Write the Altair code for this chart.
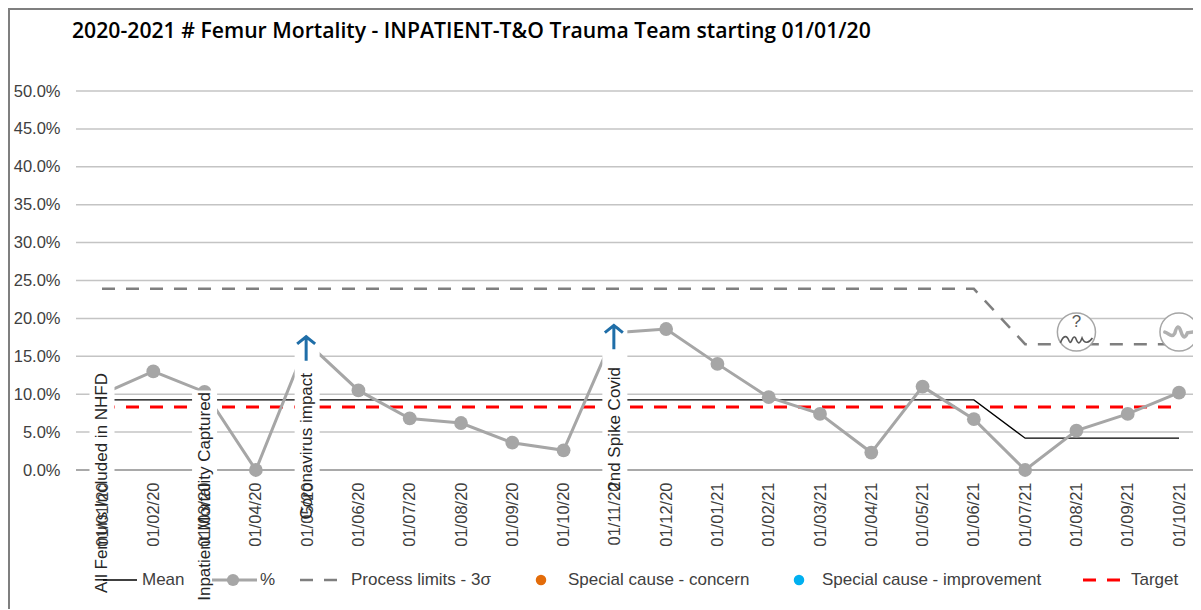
import altair as alt
import pandas as pd

dates = ["01/01/20","01/02/20","01/03/20","01/04/20","01/05/20","01/06/20","01/07/20","01/08/20","01/09/20","01/10/20","01/11/20","01/12/20",
         "01/01/21","01/02/21","01/03/21","01/04/21","01/05/21","01/06/21","01/07/21","01/08/21","01/09/21","01/10/21"]
pct = [10.0,13.0,10.3,0.0,16.8,10.5,6.8,6.2,3.6,2.6,18.1,18.6,14.0,9.6,7.4,2.3,11.0,6.7,0.0,5.2,7.4,10.2]
mean = [9.25]*18 + [4.2]*4
limit = [23.9]*18 + [16.6]*4
target = [8.3]*22
note_dates = ["01/01/20","01/03/20","01/05/20","01/11/20"]
note_text = ["All Femurs Included in NHFD","Inpatient Mortality Captured","Coronavirus impact","2nd Spike Covid"]
note_top = [12.8,10.3,12.8,13.6]
box_top = [13.0,10.5,17.7,18.7]
arrow_dates = ["01/05/20","01/11/20"]
arrow_mid = [16.0,17.5]
icon_dates = ["01/08/21","01/10/21"]
icon_y = [18.2,18.2]
yticks = [0,5,10,15,20,25,30,35,40,45,50]

df = pd.DataFrame(dict(d=dates,pct=pct,mean=mean,limit=limit,target=target))
notes = pd.DataFrame(dict(d=note_dates,t=note_text,top=note_top,box=box_top,zero=[-0.2]*4))
arrows = pd.DataFrame(dict(d=arrow_dates,y=arrow_mid))
icons = pd.DataFrame(dict(d=icon_dates,y=icon_y))
grid_df = pd.DataFrame(dict(g=yticks[1:]))
zero_df = pd.DataFrame(dict(g=yticks[:1]))

FONT = "Liberation Sans"
TXT = "#404040"
GRID = "#c4c4c4"
W = 1117
sc_x = alt.Scale(type="point", padding=0, domain=dates, range=[26,1103])
sc_y = alt.Scale(domain=[0,50], nice=False)
ax_x = alt.Axis(labelAngle=270, labelAlign="right", labelBaseline="middle", labelPadding=12, ticks=False, domain=False,
                labelFont=FONT, labelFontSize=16.5, labelColor=TXT, labelOverlap=False, grid=False)
ax_y = alt.Axis(values=yticks, labelExpr="format(datum.value,'.1f')+'%'", labelPadding=16, ticks=False, domain=False, grid=False,
                labelFont=FONT, labelFontSize=16.5, labelColor=TXT, labelOverlap=False)
X = alt.X("d:N", sort=dates, title=None, scale=sc_x, axis=ax_x)
def Y(f):
    return alt.Y(f, title=None, scale=sc_y, axis=ax_y)

grid = [
    alt.Chart(grid_df).mark_rule(color=GRID, strokeWidth=1.5).encode(y=Y("g:Q"), x=alt.value(0), x2=alt.value(W)),
    alt.Chart(zero_df).mark_rule(color="#8c8c8c", strokeWidth=1.5).encode(y=Y("g:Q"), x=alt.value(0), x2=alt.value(W)),
]
base = [
    alt.Chart(df).mark_line(color="#7f7f7f", strokeWidth=2.5, strokeDash=[13,11]).encode(x=X, y=Y("limit:Q")),
    alt.Chart(df).mark_line(color="#000000", strokeWidth=1.3).encode(x=X, y=Y("mean:Q")),
    alt.Chart(df).mark_line(color="#ff0000", strokeWidth=3, strokeDash=[13,11]).encode(x=X, y=Y("target:Q")),
    alt.Chart(df).mark_line(color="#a6a6a6", strokeWidth=3).encode(x=X, y=Y("pct:Q")),
    alt.Chart(df).mark_point(filled=True, color="#a6a6a6", size=190, opacity=1).encode(x=X, y=Y("pct:Q")),
]
boxes = alt.Chart(notes).mark_rule(color="white", strokeWidth=25).encode(x=X, y=Y("box:Q"), y2="zero:Q")
texts = alt.Chart(notes).mark_text(angle=270, align="right", baseline="middle", font=FONT, fontSize=17, color="#262626").encode(
    x=X, y=Y("top:Q"), text="t:N")
ARROW = "M-0.75,-0.4 L0,-1 L0.75,-0.4 M0,-1 L0,1"
arrow = alt.Chart(arrows).mark_point(shape=ARROW, color="#1f6ea8", size=576, strokeWidth=3, opacity=1, filled=False, xOffset=-1).encode(
    x=X, y=Y("y:Q"))
circ = alt.Chart(icons).mark_point(shape="circle", filled=True, fill="white", stroke="#a6a6a6", strokeWidth=1.5, size=1452, opacity=1).encode(
    x=X, y=Y("y:Q"))
WAVE = "M-1,0.3 C-0.8,-0.2 -0.6,-0.2 -0.45,0.2 C-0.3,0.5 -0.25,-0.3 -0.05,0 C0.1,0.4 0.2,0.4 0.35,0 C0.5,0.4 0.8,0.3 1,0"
PULSE = "M-1,0 C-0.7,0.1 -0.5,0.45 -0.3,0.1 C-0.15,-0.5 0,-0.5 0.15,0 C0.3,0.5 0.45,0.4 0.6,0.05 L1,0"
w1 = alt.Chart(icons.iloc[[0]]).mark_point(shape=WAVE, stroke="#595959", strokeWidth=1.6, size=1024, opacity=1, yOffset=6).encode(
    x=X, y=Y("y:Q"))
w2 = alt.Chart(icons.iloc[[1]]).mark_point(shape=PULSE, stroke="#b0b0b0", strokeWidth=3.5, size=800, opacity=1, strokeCap="round").encode(
    x=X, y=Y("y:Q"))
q = alt.Chart(icons.iloc[[0]]).mark_text(text="?", font=FONT, fontSize=17, color="#595959", yOffset=-10).encode(
    x=X, y=Y("y:Q"))

# legend (pixels within the plot: page x - 76, page y - 91)
LX = lambda px: px - 76
LY = 489
legend_row = pd.DataFrame({"a":[0]})
def lrule(x1,x2,**kw):
    return alt.Chart(legend_row).mark_rule(**kw).encode(x=alt.value(LX(x1)),x2=alt.value(LX(x2)),y=alt.value(LY))
def ltext(x,t):
    return alt.Chart(legend_row).mark_text(text=t,align="left",baseline="middle",font=FONT,fontSize=17,color=TXT).encode(x=alt.value(LX(x)),y=alt.value(LY))
def ldot(x,c,s=110):
    return alt.Chart(legend_row).mark_point(filled=True,color=c,size=s,opacity=1).encode(x=alt.value(LX(x)),y=alt.value(LY))
legend = [
    lrule(103,137,color="#000000",strokeWidth=1.3), ltext(142,"Mean"),
    lrule(212,257,color="#a6a6a6",strokeWidth=3), ldot(233,"#a6a6a6",150), ltext(260,"%"),
    lrule(300,338,color="#7f7f7f",strokeWidth=2.5,strokeDash=[13,11]), ltext(351,"Process limits - 3σ"),
    ldot(541,"#e36c0a"), ltext(568,"Special cause - concern"),
    ldot(799,"#00b0f0"), ltext(822,"Special cause - improvement"),
    lrule(1083,1120,color="#ff0000",strokeWidth=3,strokeDash=[13,11]), ltext(1131,"Target"),
]
# frame
frame = [
    alt.Chart(legend_row).mark_rule(color="#7f7f7f",strokeWidth=2).encode(x=alt.value(-67),y=alt.value(-83),y2=alt.value(518)),
    alt.Chart(legend_row).mark_rule(color="#7f7f7f",strokeWidth=2).encode(x=alt.value(-68),x2=alt.value(W),y=alt.value(-82)),
]

chart = alt.layer(*grid, *base, boxes, texts, arrow, circ, w1, w2, q, *legend, *frame).properties(
    width=W, height=379,
    padding={"left":68,"top":83,"right":0,"bottom":139},
    background="white",
    autosize=alt.AutoSizeParams(type="none"),
    title=alt.TitleParams("2020-2021 # Femur Mortality - INPATIENT-T&O Trauma Team  starting 01/01/20", anchor="start", dx=65, offset=-52,
                          baseline="alphabetic", font="Open Sans", fontSize=21.2, fontWeight=600, color="#000000"),
).configure_view(stroke=None)
chart.save("out.html", embed_options={"renderer": "svg", "actions": False})
